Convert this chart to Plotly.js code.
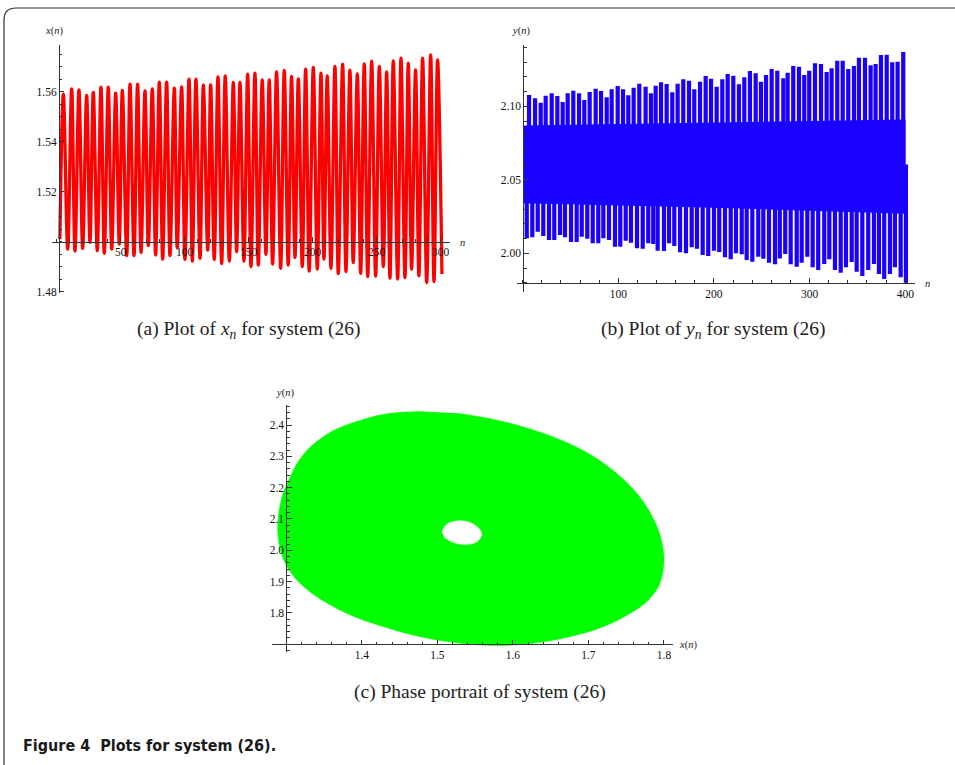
<!DOCTYPE html>
<html>
<head>
<meta charset="utf-8">
<script src="https://cdn.plot.ly/plotly-3.0.1.min.js"></script>
<style>html,body{margin:0;padding:0;background:#fff;overflow:hidden}#chart{width:955px;height:765px}</style>
</head>
<body>
<div id="chart"></div>
<script>
// ---------- Panel (a): x(n) peaks and troughs ----------
const aPeakN = [5.2,11.7,17.4,23.4,28.6,34.6,40.3,46.1,51.3,57.3,63.2,69.0,74.7,80.2,85.9,91.9,97.6,103.4,108.8,114.6,120.3,126.0,131.7,138.0,143.2,149.2,154.9,160.6,166.1,171.8,177.8,183.5,188.8,194.5,200.5,206.5,211.4,217.4,223.4,229.1,234.9,240.3,246.1,252.1,257.8,263.0,269.0,274.7,280.4,285.9,292.2,297.6];
const aPeakX = [1.5590,1.5611,1.5607,1.5585,1.5597,1.5618,1.5618,1.5594,1.5605,1.5630,1.5630,1.5603,1.5611,1.5638,1.5638,1.5614,1.5619,1.5650,1.5650,1.5626,1.5627,1.5659,1.5663,1.5637,1.5637,1.5670,1.5674,1.5647,1.5647,1.5679,1.5685,1.5661,1.5651,1.5690,1.5697,1.5674,1.5663,1.5701,1.5710,1.5686,1.5671,1.5711,1.5722,1.5701,1.5679,1.5723,1.5734,1.5714,1.5687,1.5734,1.5747,1.5727];
const aTroughN = [2.5,8.6,14.3,20.3,26.0,31.7,37.2,43.0,48.9,54.7,60.4,65.9,71.6,77.3,82.8,88.5,94.2,100.2,106.0,112.0,118.0,123.1,128.9,134.9,140.6,146.3,151.8,157.5,163.5,168.7,175.0,180.9,186.2,191.9,197.3,203.6,208.8,214.3,220.0,226.0,231.7,237.5,243.0,249.2,255.2,260.4,266.4,272.1,277.3,283.0,289.1,294.8,301.0];
const aTroughX = [1.5010,1.4970,1.4962,1.4973,1.4997,1.4964,1.4953,1.4970,1.4990,1.4944,1.4944,1.4957,1.4984,1.4946,1.4930,1.4944,1.4976,1.4929,1.4922,1.4933,1.4966,1.4929,1.4912,1.4922,1.4960,1.4922,1.4900,1.4906,1.4949,1.4910,1.4893,1.4906,1.4937,1.4900,1.4882,1.4890,1.4930,1.4893,1.4872,1.4880,1.4916,1.4873,1.4860,1.4862,1.4900,1.4853,1.4850,1.4856,1.4890,1.4863,1.4836,1.4840,1.4870];

// ---------- Panel (b): y(n) spikes and central band ----------
const bTopN = [6.6,12.9,18.8,24.0,30.3,36.2,41.8,47.0,52.9,58.9,64.4,70.0,76.3,81.9,87.8,93.0,99.3,104.9,110.4,116.0,121.9,128.5,134.1,139.0,144.6,150.5,156.4,162.0,167.9,173.9,179.4,185.4,191.3,196.9,202.8,208.7,214.3,220.2,226.1,231.7,237.6,243.6,249.1,254.4,260.3,266.2,272.5,277.0,282.9,288.9,294.4,299.6,305.6,311.9,317.8,323.0,328.9,334.6,340.4,346.4,351.6,357.9,363.8,369.0,374.6,380.6,386.4,392.0,397.9];
const bTopY = [2.1077,2.1054,2.1025,2.1072,2.1088,2.1070,2.1029,2.1088,2.1106,2.1088,2.1043,2.1097,2.1120,2.1104,2.1061,2.1116,2.1138,2.1116,2.1075,2.1127,2.1154,2.1133,2.1088,2.1140,2.1163,2.1152,2.1095,2.1154,2.1184,2.1174,2.1116,2.1167,2.1206,2.1188,2.1133,2.1184,2.1220,2.1208,2.1150,2.1197,2.1240,2.1224,2.1167,2.1213,2.1254,2.1242,2.1190,2.1229,2.1274,2.1269,2.1213,2.1242,2.1293,2.1288,2.1233,2.1259,2.1310,2.1310,2.1254,2.1274,2.1331,2.1331,2.1279,2.1288,2.1349,2.1351,2.1299,2.1303,2.1369];
const bBotN = [4.2,10.0,15.7,21.5,27.5,33.0,39.0,44.2,50.5,56.4,61.7,67.5,73.2,79.0,84.3,90.2,96.5,102.0,107.7,113.2,119.5,125.5,131.3,136.5,141.1,147.7,153.0,158.5,164.5,170.7,176.7,182.2,188.2,194.0,200.0,205.5,211.5,217.5,223.0,229.0,234.2,240.1,246.3,251.6,257.5,263.8,268.8,274.5,280.2,286.5,291.7,297.6,303.2,309.0,315.3,320.6,326.5,332.5,338.0,344.0,349.2,355.1,361.3,367.3,372.5,378.0,384.0,389.2,395.2,400.7];
const bBotY = [2.0102,2.0109,2.0147,2.0118,2.0090,2.0090,2.0124,2.0109,2.0077,2.0077,2.0113,2.0099,2.0068,2.0068,2.0102,2.0090,2.0045,2.0045,2.0086,2.0072,2.0034,2.0031,2.0068,2.0063,2.0018,2.0016,2.0068,2.0050,2.0007,2.0000,2.0041,2.0031,1.9989,1.9982,2.0018,2.0009,1.9973,1.9959,2.0000,1.9993,1.9954,1.9943,1.9977,1.9963,1.9936,1.9925,1.9965,1.9995,1.9925,1.9909,1.9936,1.9977,1.9905,1.9886,1.9927,1.9959,1.9886,1.9868,1.9905,1.9941,1.9875,1.9846,1.9886,1.9927,1.9859,1.9825,1.9859,1.9905,1.9837,1.9800];
const bBandN = [0.5,200,400.3];
const bBandHi = [2.087,2.089,2.091];
const bBandLo = [2.034,2.031,2.027];
const bTailN = [401.5,401.5];
const bTailY = [1.980,2.022];

// ---------- Panel (c): phase portrait outline and hole ----------
const cOuterX = [1.4817,1.4332,1.3979,1.3626,1.3317,1.3141,1.3031,1.2943,1.2899,1.2885,1.2912,1.2987,1.3141,1.3406,1.3802,1.4287,1.4772,1.5302,1.5787,1.6272,1.6757,1.7198,1.7550,1.7793,1.7925,1.7982,1.8000,1.7955,1.7840,1.7680,1.7470,1.7200,1.6880,1.6500,1.6050,1.5600,1.5250];
const cOuterY = [2.4430,2.4359,2.4147,2.3828,2.3298,2.2767,2.2236,2.1702,2.1172,2.0641,2.0110,1.9575,1.9044,1.8513,1.7982,1.7558,1.7240,1.7031,1.6958,1.7031,1.7240,1.7558,1.7982,1.8407,1.8831,1.9260,1.9790,2.0429,2.1100,2.1700,2.2250,2.2780,2.3250,2.3650,2.4000,2.4250,2.4380];
const cHoleX = [1.5059,1.5125,1.5257,1.5412,1.5531,1.5588,1.5522,1.5368,1.5213,1.5094];
const cHoleY = [2.0588,2.0832,2.0938,2.0906,2.0747,2.0514,2.0270,2.0185,2.0249,2.0408];

// ---------- Tick labels ----------
const aXTicks = [50,100,150,200,250,300];
const aYTicks = [1.48,1.52,1.54,1.56];
const bXTicks = [100,200,300,400];
const bYTicks = [2.00,2.05,2.10];
const cXTicks = [1.4,1.5,1.6,1.7,1.8];
const cYTicks = [1.8,1.9,2.0,2.1,2.2,2.3,2.4];

// ---------- build series ----------
const aPts = [];
aTroughN.forEach((n,i)=>aPts.push([n,aTroughX[i]]));
aPeakN.forEach((n,i)=>aPts.push([n,aPeakX[i]]));
aPts.sort((p,q)=>p[0]-q[0]);
const aN = aPts.map(p=>p[0]), aX = aPts.map(p=>p[1]);

const bMid = (bBandHi[0]+bBandLo[0])/2;
const topX=[], topY=[], botX=[], botY=[];
bTopN.forEach((n,i)=>{topX.push(n,n,null); topY.push(bMid,bTopY[i],null);});
bBotN.forEach((n,i)=>{botX.push(n,n,null); botY.push(bMid,bBotY[i],null);});

const RED='#ff0000', BLUE='#1a00ff', GREEN='#00ff00';
const W=955, H=765;
const px=x=>x/W, py=y=>1-y/H;

const traces = [
  {x:aN, y:aX, mode:'lines', line:{color:RED, width:3.3, shape:'spline', smoothing:1}, xaxis:'x', yaxis:'y', hoverinfo:'skip'},
  {x:bBandN, y:bBandLo, mode:'lines', line:{width:0, color:BLUE}, xaxis:'x2', yaxis:'y2', hoverinfo:'skip'},
  {x:bBandN, y:bBandHi, mode:'lines', line:{width:0, color:BLUE}, fill:'tonexty', fillcolor:BLUE, xaxis:'x2', yaxis:'y2', hoverinfo:'skip'},
  {x:topX, y:topY, mode:'lines', line:{color:BLUE, width:4.2}, xaxis:'x2', yaxis:'y2', hoverinfo:'skip'},
  {x:botX, y:botY, mode:'lines', line:{color:BLUE, width:4.2}, xaxis:'x2', yaxis:'y2', hoverinfo:'skip'},
  {x:bTailN, y:bTailY, mode:'lines', line:{color:BLUE, width:2}, xaxis:'x2', yaxis:'y2', hoverinfo:'skip'},
  {x:cOuterX, y:cOuterY, mode:'lines', fill:'toself', fillcolor:GREEN, line:{color:GREEN, width:0.5, shape:'spline'}, xaxis:'x3', yaxis:'y3', hoverinfo:'skip'},
  {x:cHoleX, y:cHoleY, mode:'lines', fill:'toself', fillcolor:'#ffffff', line:{color:'#ffffff', width:0.5, shape:'spline'}, xaxis:'x3', yaxis:'y3', hoverinfo:'skip'}
];

// panel geometry (pixels) and ranges
const P = {
  a:{xd:[51.7,450], yd:[293.3,45], xr:[-3.9,307.3], yr:[1.4793,1.5787], xCross:1.50, yCross:1.8},
  b:{xd:[516.7,915], yd:[291.7,45], xr:[-6.3,410.2], yr:[1.9739,2.1417], xCross:1.98, yCross:0.5},
  c:{xd:[272,673], yd:[651.7,405], xr:[1.281,1.812], yr:[1.676,2.464], xCross:1.70, yCross:1.30}
};
function dom(p){return {x:[px(p.xd[0]),px(p.xd[1])], y:[py(p.yd[0]),py(p.yd[1])]};}
function pos(v,r,d){return d[0]+(v-r[0])/(r[1]-r[0])*(d[1]-d[0]);}

const AX='#333333';
const tfont={family:'Liberation Serif, DejaVu Serif, serif', size:11.5, color:'#111111'};
function axis(extra){
  return Object.assign({showgrid:false, zeroline:false, showline:true, linecolor:AX, linewidth:1,
    ticks:'inside', ticklen:4.5, tickwidth:1, tickcolor:AX, tickfont:tfont, fixedrange:true,
    layer:'above traces', tickmode:'array', anchor:'free'}, extra);
}
function minor(dt){return {dtick:dt, tick0:0, ticks:'inside', ticklen:2.5, tickwidth:1, tickcolor:AX};}

const da=dom(P.a), db=dom(P.b), dc=dom(P.c);
const layout = {
  width:W, height:H, margin:{l:0,r:0,t:0,b:0}, paper_bgcolor:'#ffffff', plot_bgcolor:'rgba(0,0,0,0)',
  showlegend:false, hovermode:false,
  xaxis: axis({domain:da.x, range:P.a.xr, tickvals:aXTicks, ticktext:aXTicks.map(String), minor:minor(10),
    position:pos(P.a.xCross,P.a.yr,da.y)}),
  yaxis: axis({domain:da.y, range:P.a.yr, tickvals:aYTicks, ticktext:aYTicks.map(v=>v.toFixed(2)), minor:minor(0.005),
    position:pos(P.a.yCross,P.a.xr,da.x)}),
  xaxis2: axis({domain:db.x, range:P.b.xr, tickvals:bXTicks, ticktext:bXTicks.map(String), minor:minor(20),
    position:pos(P.b.xCross,P.b.yr,db.y)}),
  yaxis2: axis({domain:db.y, range:P.b.yr, tickvals:bYTicks, ticktext:bYTicks.map(v=>v.toFixed(2)), minor:minor(0.01),
    position:pos(P.b.yCross,P.b.xr,db.x)}),
  xaxis3: axis({domain:dc.x, range:P.c.xr, tickvals:cXTicks, ticktext:cXTicks.map(v=>v.toFixed(1)), minor:minor(0.02),
    position:pos(P.c.xCross,P.c.yr,dc.y)}),
  yaxis3: axis({domain:dc.y, range:P.c.yr, tickvals:cYTicks, ticktext:cYTicks.map(v=>v.toFixed(1)), minor:minor(0.02),
    position:pos(P.c.yCross,P.c.xr,dc.x)}),
  shapes:[{type:'path', xref:'paper', yref:'paper', layer:'above',
    path:`M ${px(4)},${py(800)} L ${px(4)},${py(20)} Q ${px(4)},${py(8)} ${px(16)},${py(8)} L ${px(1000)},${py(8)}`,
    line:{color:'#333333', width:1.2}}],
  annotations:[]
};
const lab={family:'Liberation Serif, DejaVu Serif, serif', size:10.5, color:'#1a1a1a'};
function ann(text,x,y,font,xa){layout.annotations.push({text:text, x:px(x), y:py(y), xref:'paper', yref:'paper', showarrow:false, xanchor:xa||'center', yanchor:'middle', font:font});}
ann('<i>x</i>(<i>n</i>)',54,31,lab);
ann('<i>n</i>',462,242,lab);
ann('<i>y</i>(<i>n</i>)',521,31,lab);
ann('<i>n</i>',927,283,lab);
ann('<i>y</i>(<i>n</i>)',285,393,lab);
ann('<i>x</i>(<i>n</i>)',688,645,lab);
const cap={family:'Liberation Serif, DejaVu Serif, serif', size:19.5, color:'#222'};
ann('(a) Plot of <i>x<sub>n</sub></i> for system (26)',249,330,cap);
ann('(b) Plot of <i>y<sub>n</sub></i> for system (26)',713,330,cap);
ann('(c) Phase portrait of system (26)',480,692,cap);
ann('<b>Figure 4\u00a0\u00a0Plots for system (26).</b>',21,745,{family:'Liberation Sans Narrow, DejaVu Sans Condensed, Open Sans, sans-serif', size:16, color:'#1a1a1a'},'left');

Plotly.newPlot('chart', traces, layout, {displayModeBar:false, staticPlot:true});
</script>
</body>
</html>
